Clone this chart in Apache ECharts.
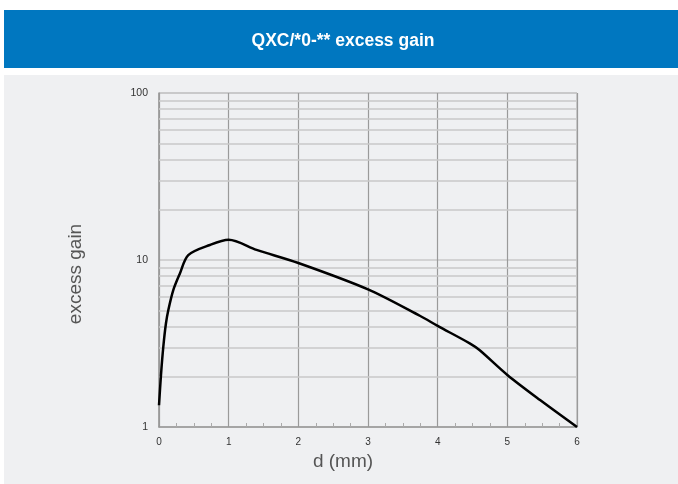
<!DOCTYPE html>
<html><head><meta charset="utf-8">
<script src="https://cdn.jsdelivr.net/npm/echarts@6/dist/echarts.min.js"></script>
<style>html,body{margin:0;padding:0;background:#fff}#c{width:678px;height:484px}</style>
</head><body><div id="c"></div>
<script>
const titleText = "QXC/*0-** excess gain";
const xName = "d (mm)";
const yName = "excess gain";
const dValues = [0, 0.03, 0.062, 0.10, 0.134, 0.205, 0.30, 0.42, 0.73, 1.0, 1.4, 2.0, 3.0, 3.75, 4.0, 4.46, 4.6, 5.0, 5.47, 6.0];
const gainValues = [1.35, 2.09, 3.03, 4.18, 5.02, 6.6, 8.3, 10.7, 12.3, 13.2, 11.5, 9.6, 6.67, 4.62, 4.03, 3.17, 2.89, 2.05, 1.45, 1.0];
const minorGridValues = [2,3,4,5,6,7,8,9,20,30,40,50,60,70,80,90];

const chart = echarts.init(document.getElementById('c'));
const font = '"Liberation Sans", Arial, sans-serif';
chart.setOption({
  animation: false,
  backgroundColor: '#ffffff',
  graphic: [
    {type:'rect', shape:{x:4,y:10,width:674,height:58}, style:{fill:'#0077c0'}, z:-10},
    {type:'rect', shape:{x:4,y:75,width:674,height:409}, style:{fill:'#eff0f2'}, z:-10},
    {type:'text', x:343, y:41, style:{text:titleText, fill:'#ffffff', font:'bold 17.5px ' + font, align:'center', verticalAlign:'middle'}},
    {type:'text', x:343, y:462, style:{text:xName, fill:'#555', font:'19px ' + font, align:'center', verticalAlign:'middle'}},
    {type:'text', x:76, y:274, rotation:Math.PI/2, style:{text:yName, fill:'#555', font:'19px ' + font, align:'center', verticalAlign:'middle'}}
  ],
  grid: {left:159, right:101, top:93, bottom:57, show:true, borderColor:'#a8a8a8', borderWidth:1, backgroundColor:'transparent'},
  xAxis: {
    type:'value', min:0, max:6, interval:1,
    axisLine:{show:true, lineStyle:{color:'#999', width:1.5}},
    axisTick:{show:true, inside:true, length:5, lineStyle:{color:'#999'}},
    minorTick:{show:true, splitNumber:4, length:4, lineStyle:{color:'#aaa'}},
    axisLabel:{fontSize:10, color:'#333', margin:10, fontFamily:font},
    splitLine:{show:true, lineStyle:{color:'#9a9a9a', width:1.2}}
  },
  yAxis: {
    type:'log', logBase:10, min:1, max:100,
    axisLine:{show:true, lineStyle:{color:'#999', width:1.5}},
    axisTick:{show:false},
    axisLabel:{fontSize:10.5, color:'#333', margin:11, fontFamily:font},
    splitLine:{show:true, lineStyle:{color:'#c8c8c8', width:1.5}}
  },
  series: [{
    type:'line', data:dValues.map((d,i)=>[d,gainValues[i]]),
    smooth:0.3, showSymbol:false, symbol:'none',
    lineStyle:{color:'#000', width:2.5}, z:5,
    markLine:{silent:true, symbol:'none', label:{show:false},
      lineStyle:{color:'#c8c8c8', width:1.5, type:'solid'},
      data: minorGridValues.map(v=>({yAxis:v})), z:1}
  }]
});
</script></body></html>
